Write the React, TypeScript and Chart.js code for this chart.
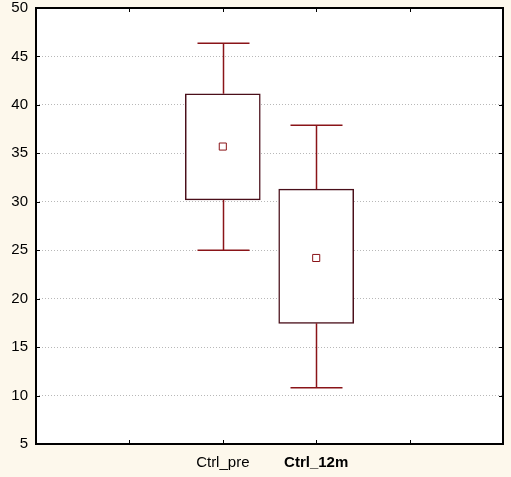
import React, { useEffect, useRef } from "react";
import { Chart, registerables } from "chart.js";

Chart.register(...registerables);

const categories = ["", "", "Ctrl_pre", "Ctrl_12m", "", ""];
const whiskerLow = [null, null, 25.0, 10.8];
const q1 = [null, null, 30.2, 17.45];
const q3 = [null, null, 41.15, 31.3];
const whiskerHigh = [null, null, 46.35, 37.9];
const means = [null, null, 35.7, 24.2, null, null];
const yTicks = [5, 10, 15, 20, 25, 30, 35, 40, 45, 50];

const BOX_BORDER = "#4a0f1a";
const WHISKER = "#8a1418";
const BG = "#fdf8ec";

const framePlugin = {
  id: "frame",
  beforeDraw(chart: any) {
    const ctx = chart.ctx;
    const { left, right, top, bottom } = chart.chartArea;
    ctx.save();
    ctx.fillStyle = "#ffffff";
    ctx.fillRect(left, top, right - left, bottom - top);
    ctx.restore();
  },
  afterDatasetsDraw(chart: any) {
    const ctx = chart.ctx;
    const x = chart.scales.x;
    const y = chart.scales.y;
    ctx.save();
    ctx.strokeStyle = WHISKER;
    ctx.lineWidth = 1.5;
    for (let i = 0; i < whiskerLow.length; i++) {
      if (whiskerLow[i] == null) continue;
      const cx = Math.round(x.getPixelForValue(i)) + 0.5;
      const yl = y.getPixelForValue(whiskerLow[i] as number);
      const yq1 = y.getPixelForValue(q1[i] as number);
      const yq3 = y.getPixelForValue(q3[i] as number);
      const yh = y.getPixelForValue(whiskerHigh[i] as number);
      ctx.beginPath();
      ctx.moveTo(cx, yl);
      ctx.lineTo(cx, yq1);
      ctx.moveTo(cx, yq3);
      ctx.lineTo(cx, yh);
      ctx.moveTo(cx - 26, yl);
      ctx.lineTo(cx + 26, yl);
      ctx.moveTo(cx - 26, yh);
      ctx.lineTo(cx + 26, yh);
      ctx.stroke();
    }
    ctx.restore();
  },
  afterDraw(chart: any) {
    const ctx = chart.ctx;
    const { left, right, top, bottom } = chart.chartArea;
    const x = chart.scales.x;
    const y = chart.scales.y;
    ctx.save();
    ctx.strokeStyle = "#000";
    ctx.lineWidth = 2;
    ctx.strokeRect(left, top, right - left, bottom - top);
    ctx.lineWidth = 1;
    ctx.beginPath();
    for (let i = 1; i < categories.length - 1; i++) {
      const px = Math.round(x.getPixelForValue(i)) + 0.5;
      ctx.moveTo(px, bottom);
      ctx.lineTo(px, bottom - 4);
      ctx.moveTo(px, top);
      ctx.lineTo(px, top + 4);
    }
    for (const v of yTicks) {
      const py = Math.round(y.getPixelForValue(v)) + 0.5;
      ctx.moveTo(left, py);
      ctx.lineTo(left + 4, py);
      ctx.moveTo(right, py);
      ctx.lineTo(right - 4, py);
    }
    ctx.stroke();
    ctx.restore();
  },
};

export default function App() {
  const ref = useRef<HTMLCanvasElement>(null);
  useEffect(() => {
    document.body.style.margin = "0";
    const chart = new Chart(ref.current as HTMLCanvasElement, {
      type: "bar",
      data: {
        labels: categories,
        datasets: [
          {
            type: "bar",
            data: categories.map((_, i) =>
              q1[i] != null ? [q1[i] as number, q3[i] as number] : null
            ) as any,
            backgroundColor: "#ffffff",
            borderColor: BOX_BORDER,
            borderWidth: 1.5,
            borderSkipped: false,
            barThickness: 75,
            grouped: false,
            order: 2,
          },
          {
            type: "line",
            data: means as any,
            showLine: false,
            pointStyle: "rect",
            pointRadius: 5,
            pointBackgroundColor: "#ffffff",
            pointBorderColor: WHISKER,
            pointBorderWidth: 1,
            order: 1,
          },
        ],
      },
      options: {
        responsive: false,
        animation: false,
        layout: { padding: { top: 8, right: 8, left: 0, bottom: 0 } },
        plugins: {
          legend: { display: false },
          tooltip: { enabled: false },
        },
        scales: {
          x: {
            type: "category",
            offset: false,
            grid: { display: false, drawTicks: false },
            border: { display: false },
            ticks: {
              autoSkip: false,
              maxRotation: 0,
              padding: 10,
              color: "#000",
              font: (c: any) => ({
                family: "'Liberation Sans', Arial, sans-serif",
                size: 15,
                weight: c.index === 3 ? "bold" : "normal",
              }),
            },
            afterFit: (s: any) => {
              s.height = 33;
              s.paddingLeft = 0;
              s.paddingRight = 0;
            },
          },
          y: {
            type: "linear",
            min: 5,
            max: 50,
            afterBuildTicks: (s: any) => {
              s.ticks = yTicks.map((v) => ({ value: v }));
            },
            grid: {
              drawTicks: false,
              color: (c: any) =>
                c.tick && (c.tick.value === 5 || c.tick.value === 50)
                  ? "rgba(0,0,0,0)"
                  : "#b8b8b8",
              lineWidth: 1,
            },
            border: { display: false, dash: [1, 2] },
            ticks: {
              padding: 8,
              color: "#000",
              font: { family: "'Liberation Sans', Arial, sans-serif", size: 15 },
            },
            afterFit: (s: any) => {
              s.width = 36;
              s.paddingTop = 0;
              s.paddingBottom = 0;
            },
          },
        },
      },
      plugins: [framePlugin],
    });
    return () => chart.destroy();
  }, []);
  return (
    <div style={{ position: "absolute", left: 0, top: 0, width: 511, height: 477, background: BG }}>
      <canvas ref={ref} width={511} height={477} style={{ display: "block" }} />
    </div>
  );
}
